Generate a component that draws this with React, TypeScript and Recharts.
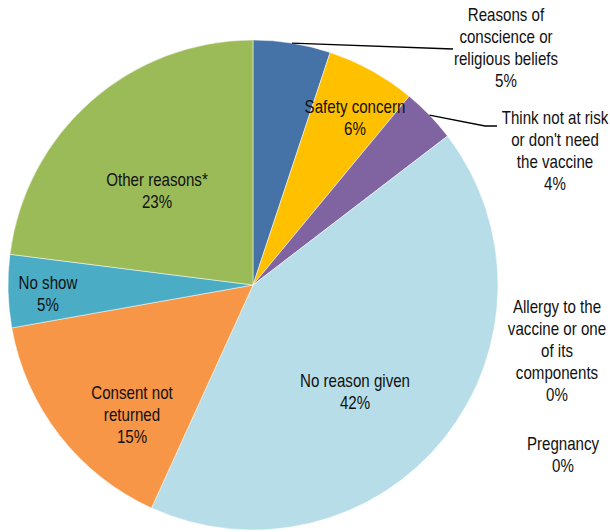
import { PieChart, Pie, Cell } from 'recharts';

const reasons = [
  'Reasons of conscience or religious beliefs',
  'Safety concern',
  "Think not at risk or don't need the vaccine",
  'Allergy to the vaccine or one of its components',
  'Pregnancy',
  'No reason given',
  'Consent not returned',
  'No show',
  'Other reasons*',
];
const shares = [5.1, 5.9, 3.6, 0, 0, 42.2, 15.4, 4.8, 23.0];
const colors = ['#4572a7', '#ffc000', '#8064a2', '#4bacc6', '#4bacc6', '#b7dee8', '#f79646', '#4bacc6', '#9bbb59'];

const data = reasons.map((name, i) => ({ name, value: shares[i] }));

// label text broken into lines, plus where each block sits relative to the pie centre
const labelLines: string[][] = [
  ['Reasons of', 'conscience or', 'religious beliefs'],
  ['Safety concern'],
  ['Think not at risk', "or don't need", 'the vaccine'],
  ['Allergy to the', 'vaccine or one', 'of its', 'components'],
  ['Pregnancy'],
  ['No reason given'],
  ['Consent not', 'returned'],
  ['No show'],
  ['Other reasons*'],
];
const labelPlace: { dx: number; dy: number; leader?: number[][] }[] = [
  { dx: 253, dy: -270, leader: [[200, -236]] },
  { dx: 102, dy: -178 },
  { dx: 302, dy: -167, leader: [[232, -159], [244, -159]] },
  { dx: 304, dy: 22 },
  { dx: 310, dy: 159 },
  { dx: 102, dy: 96 },
  { dx: -121, dy: 108 },
  { dx: -205, dy: -2 },
  { dx: -96, dy: -105 },
];

const RAD = Math.PI / 180;
const LINE = 22;
const SQUEEZE = 0.84; // the source font is a narrow face
const FONT = '"Liberation Sans", Arial, sans-serif';

const renderLabel = (props: any) => {
  const { cx, cy, midAngle, outerRadius, index, value } = props;
  const place = labelPlace[index];
  const lines = [...labelLines[index], `${Math.round(value)}%`];
  const x = cx + place.dx;
  const y0 = cy + place.dy;
  let leader = null;
  if (place.leader) {
    const sx = cx + outerRadius * Math.cos(-midAngle * RAD);
    const sy = cy + outerRadius * Math.sin(-midAngle * RAD);
    const pts = [[sx, sy], ...place.leader.map(([a, b]) => [cx + a, cy + b])];
    leader = (
      <polyline
        points={pts.map((p) => p.join(',')).join(' ')}
        fill="none"
        stroke="#000"
        strokeWidth={1.3}
      />
    );
  }
  return (
    <g key={`lbl-${index}`}>
      {leader}
      <g transform={`translate(${x},0) scale(${SQUEEZE},1)`}>
        <text x={0} y={y0} textAnchor="middle" fontFamily={FONT} fontSize={18} fill="#111">
          {lines.map((t, i) => (
            <tspan key={i} x={0} y={y0 + i * LINE + 6}>
              {t}
            </tspan>
          ))}
        </text>
      </g>
    </g>
  );
};

export default function App() {
  return (
    <div style={{ position: 'absolute', left: 0, top: 0, width: 610, height: 532, background: '#fff' }}>
      <PieChart width={610} height={532} margin={{ top: 0, right: 0, bottom: 0, left: 0 }}>
        <Pie
          data={data}
          dataKey="value"
          nameKey="name"
          cx={253}
          cy={285}
          outerRadius={245}
          startAngle={90}
          endAngle={-270}
          stroke="#ffffff"
          strokeWidth={0.5}
          label={renderLabel}
          labelLine={false}
          isAnimationActive={false}
        >
          {data.map((d, i) => (
            <Cell key={`cell-${i}`} fill={colors[i]} />
          ))}
        </Pie>
      </PieChart>
    </div>
  );
}
